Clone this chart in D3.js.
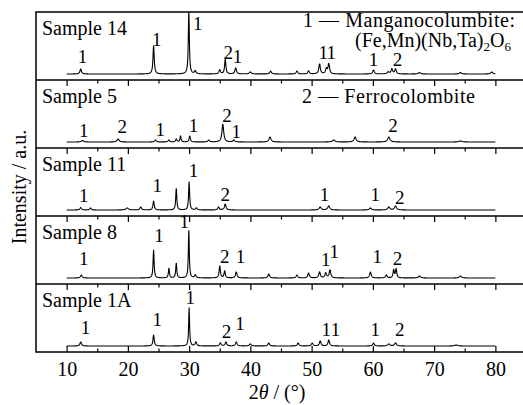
<!DOCTYPE html>
<html><head><meta charset="utf-8">
<script src="https://cdn.jsdelivr.net/npm/d3@7"></script>
<style>
body{margin:0;background:#fff}
svg, svg text{font-family:"Liberation Serif","Times New Roman",Tinos,"Nimbus Roman","DejaVu Serif",serif !important}
</style>
</head><body>
<svg id="c" width="523" height="405"></svg>
<script>
// ---- data ----
const samples = ["Sample 14", "Sample 5", "Sample 11", "Sample 8", "Sample 1A"];

// peaks: [2theta, intensity (a.u.), half width]
const peaks14 = [[12.3,5,0.15],[24.2,28,0.12],[29.95,63,0.1],[31.0,3,0.15],[35.0,4,0.15],[35.9,15,0.12],[37.6,6,0.15],[40.0,2,0.2],[43.3,3,0.15],[47.6,3,0.15],[49.5,3,0.15],[51.3,10,0.15],[52.4,5,0.15],[52.8,10,0.15],[60.1,4,0.15],[62.5,2,0.2],[63.1,5,0.15],[63.7,5,0.15],[67.6,1.5,0.2],[74.3,1.5,0.2],[79.4,2,0.2]];
const peaks5 = [[12.6,1.5,0.2],[18.4,3,0.2],[24.5,2,0.15],[26.7,2,0.15],[27.9,3,0.12],[28.6,6,0.1],[30.1,6,0.12],[33.2,2,0.15],[35.5,18,0.17],[37.3,2,0.15],[43.2,5,0.2],[53.6,2,0.25],[57.1,5,0.2],[62.6,5,0.22],[74.3,1,0.3]];
const peaks11 = [[12.3,2.5,0.15],[13.9,2,0.15],[19.9,2,0.25],[22.1,3,0.15],[24.2,9,0.12],[27.9,22,0.1],[30.0,28,0.1],[31.2,2,0.15],[34.8,3,0.15],[35.9,6,0.15],[51.4,3,0.2],[52.8,4,0.2],[59.6,2,0.2],[62.6,3,0.2],[63.7,4,0.2]];
const peaks8 = [[12.4,3,0.15],[24.2,28,0.1],[26.7,10,0.1],[27.9,15,0.1],[29.95,48,0.09],[31.0,3,0.15],[35.0,12,0.12],[35.8,7,0.12],[37.7,6,0.15],[43.0,4,0.15],[47.6,3,0.15],[49.5,5,0.15],[51.3,6,0.15],[52.3,5,0.15],[53.0,8,0.15],[59.6,6,0.15],[62.2,3,0.15],[63.4,8,0.12],[63.8,9,0.12],[67.6,2,0.2],[74.3,2,0.2]];
const peaks1A = [[12.3,4,0.15],[24.2,11,0.12],[30.0,38,0.09],[31.1,4,0.15],[35.1,3,0.15],[36.0,4,0.15],[37.7,4,0.15],[40.0,2,0.2],[43.0,3,0.15],[47.8,3,0.15],[50.1,3,0.15],[51.4,5,0.15],[52.8,6,0.15],[60.1,3,0.15],[62.6,2,0.2],[63.7,3,0.2],[73.6,1,0.3]];
const peakSets = [peaks14, peaks5, peaks11, peaks8, peaks1A];

// phase labels: [2theta, text, height above baseline]
const labels14 = [[12.6,"1",11],[24.7,"1",28],[31.4,"1",44],[36.4,"2",15],[37.9,"1",11],[51.9,"1",15],[53.2,"1",15],[60.1,"1",8],[64.0,"2",8]];
const labels5 = [[12.8,"1",5],[19.1,"2",9],[25.3,"1",6],[30.7,"1",10],[36.2,"2",20],[37.7,"1",4],[63.3,"2",10]];
const labels11 = [[12.8,"1",8],[24.8,"1",18],[30.7,"1",33],[35.9,"2",9],[52.1,"1",9],[60.4,"1",9],[64.4,"2",6]];
const labels8 = [[12.8,"1",13],[25.1,"1",36],[29.2,"1",50],[35.8,"2",15],[38.4,"1",15],[52.3,"1",12],[53.7,"1",20],[60.7,"1",15],[64.0,"2",13]];
const labels1A = [[13.1,"1",12],[24.8,"1",20],[30.2,"1",42],[36.1,"2",8],[38.3,"1",16],[52.4,"1",10],[53.9,"1",10],[60.4,"1",10],[64.4,"2",10]];
const labelSets = [labels14, labels5, labels11, labels8, labels1A];

const majorTicks = [10,20,30,40,50,60,70,80];
const minorTicks = [15,25,35,45,55,65,75];

// ---- drawing ----
const FONT = '"Liberation Serif","Times New Roman",Tinos,"Nimbus Roman","DejaVu Serif",serif';
const svg = d3.select("#c").attr("font-family", FONT);
const x = d3.scaleLinear().domain([5, 85]).range([36, 526]);
const band = d3.scaleBand().domain(samples).range([12, 352]).paddingInner(0);
const grid = d3.range(10, 80.0001, 0.04);

function intensity(peaks, t) {
  let s = 0;
  for (const [c, h, w] of peaks) { const d = (t - c) / w; s += h / (1 + d * d); }
  return s;
}

const defs = svg.append("defs");

samples.forEach((name, i) => {
  const top = band(name), bot = top + band.bandwidth();
  const y = d3.scaleLinear().domain([0, 62]).range([bot - 6, bot - 68]);
  const clipId = "clip" + i;
  defs.append("clipPath").attr("id", clipId).append("rect")
    .attr("x", x.range()[0]).attr("y", top).attr("width", x.range()[1] - x.range()[0]).attr("height", band.bandwidth());
  const pts = grid.map(t => [t, intensity(peakSets[i], t)]);
  svg.append("path").datum(pts)
    .attr("clip-path", `url(#${clipId})`)
    .attr("fill", "none").attr("stroke", "#000").attr("stroke-width", 1.1)
    .attr("stroke-linejoin", "round")
    .attr("d", d3.line().x(d => x(d[0])).y(d => y(d[1])));

  svg.append("text").attr("x", 42).attr("y", top + 23)
    .attr("font-family", FONT).attr("font-size", 20).text(name);

  svg.append("g").selectAll("text").data(labelSets[i]).join("text")
    .attr("x", d => x(d[0])).attr("y", d => y(d[2]))
    .attr("font-family", FONT)
    .attr("text-anchor", "middle").attr("font-size", 19).text(d => d[1]);

  if (i > 0) {
    const gM = svg.append("g").attr("transform", `translate(0,${top})`)
      .call(d3.axisTop(x).tickValues(majorTicks).tickSizeInner(-6).tickSizeOuter(0).tickFormat(""));
    const gm = svg.append("g").attr("transform", `translate(0,${top})`)
      .call(d3.axisTop(x).tickValues(minorTicks).tickSizeInner(-3.5).tickSizeOuter(0).tickFormat(""));
    [gM, gm].forEach(g => { g.select(".domain").remove(); g.selectAll("line").attr("stroke-width", 1.2); });
    svg.append("line").attr("x1", x.range()[0]).attr("x2", x.range()[1])
      .attr("y1", top).attr("y2", top).attr("stroke", "#000").attr("stroke-width", 1.5);
  }
});

// bottom axis
const bottomY = band.range()[1];
const gB = svg.append("g").attr("transform", `translate(0,${bottomY})`)
  .call(d3.axisBottom(x).tickValues(majorTicks).tickSizeInner(-6).tickSizeOuter(0).tickPadding(10));
gB.attr("font-family", FONT).attr("font-size", 20);
gB.select(".domain").remove();
gB.selectAll("line").attr("stroke-width", 1.2);
gB.selectAll("text").attr("font-size", 20).attr("font-family", FONT).attr("fill", "#000");
const gBm = svg.append("g").attr("transform", `translate(0,${bottomY})`)
  .call(d3.axisBottom(x).tickValues(minorTicks).tickSizeInner(-3.5).tickSizeOuter(0).tickFormat(""));
gBm.select(".domain").remove();
gBm.selectAll("line").attr("stroke-width", 1.2);

// frame
svg.append("rect").attr("x", x.range()[0]).attr("y", band.range()[0])
  .attr("width", x.range()[1] - x.range()[0]).attr("height", band.range()[1] - band.range()[0])
  .attr("fill", "none").attr("stroke", "#000").attr("stroke-width", 1.5);

// axis titles
const xt = svg.append("text").attr("x", 277).attr("y", 399).attr("text-anchor", "middle")
  .attr("font-family", FONT).attr("font-size", 20);
xt.append("tspan").text("2");
xt.append("tspan").attr("font-style", "italic").text("θ");
xt.append("tspan").text(" / (°)");

svg.append("text").attr("transform", "translate(26,187) rotate(-90)")
  .attr("font-family", FONT)
  .attr("text-anchor", "middle").attr("font-size", 20).text("Intensity / a.u.");

// legend
svg.append("text").attr("x", 303).attr("y", 27)
  .attr("font-family", FONT).attr("font-size", 20)
  .attr("textLength", 212).attr("lengthAdjust", "spacing")
  .text("1 — Manganocolumbite:");
const l2 = svg.append("text").attr("x", 511).attr("y", 47).attr("text-anchor", "end")
  .attr("font-family", FONT).attr("font-size", 20);
l2.append("tspan").text("(Fe,Mn)(Nb,Ta)");
l2.append("tspan").attr("font-size", 13).attr("dy", 4).text("2");
l2.append("tspan").attr("dy", -4).text("O");
l2.append("tspan").attr("font-size", 13).attr("dy", 4).text("6");
svg.append("text").attr("x", 302).attr("y", 103).attr("font-family", FONT).attr("font-size", 20)
  .attr("textLength", 173).attr("lengthAdjust", "spacing")
  .text("2 — Ferrocolombite");
</script>
</body></html>
